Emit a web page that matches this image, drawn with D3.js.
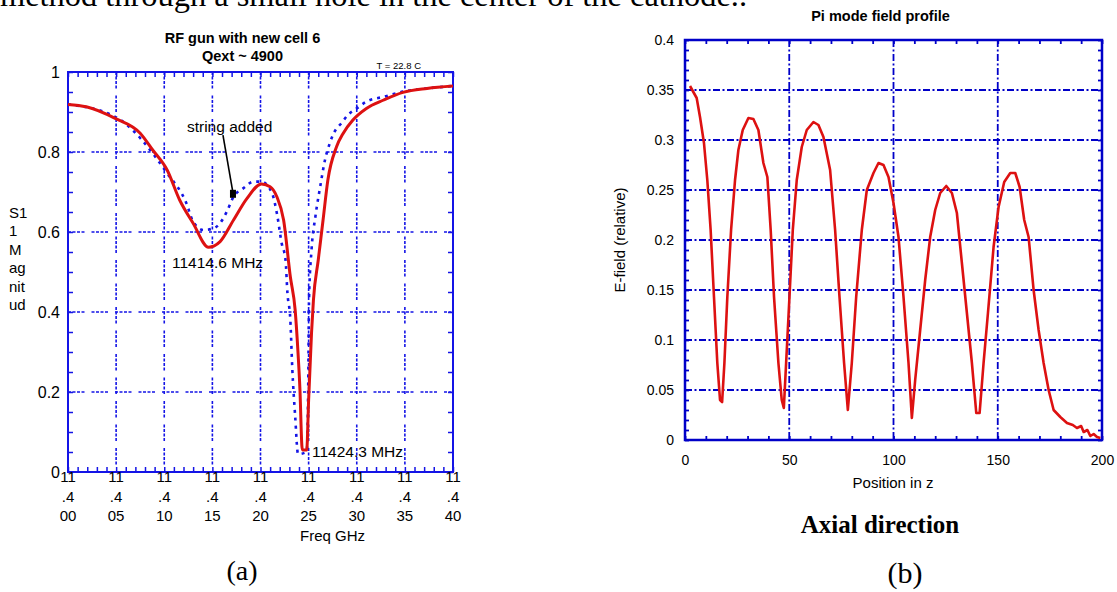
<!DOCTYPE html>
<html lang="en">
<head>
<meta charset="utf-8">
<script src="https://cdnjs.cloudflare.com/ajax/libs/d3/7.8.5/d3.min.js"></script>
<style>
body { margin: 0; background: #fff; }
svg { display: block; font-family: Arial, "Liberation Sans", sans-serif; }
.serif { font-family: "Times New Roman", "Liberation Serif", serif; }
</style>
</head>
<body>
<script>

///////// data, (a) S11 magnitude vs frequency

var freqRed = [11.4000, 11.4019, 11.4049, 11.4075, 11.4088, 11.4103, 11.4116, 11.4130, 11.4146,
  11.4158, 11.4172, 11.4186, 11.4201, 11.4210, 11.4217, 11.4224, 11.4231, 11.4236, 11.4239,
  11.4241, 11.4243, 11.42436, 11.4248, 11.4250, 11.4253, 11.4255, 11.4260, 11.4265, 11.4270,
  11.4279, 11.4286, 11.4296, 11.4310, 11.4328, 11.4348, 11.4373, 11.4400];
var magRed = [0.919, 0.913, 0.884, 0.847, 0.805, 0.755, 0.680, 0.622, 0.562,
  0.576, 0.630, 0.684, 0.720, 0.713, 0.688, 0.630, 0.488, 0.405, 0.297,
  0.205, 0.065, 0.055, 0.055, 0.180, 0.347, 0.430, 0.530, 0.630, 0.730,
  0.813, 0.847, 0.880, 0.909, 0.930, 0.949, 0.959, 0.965];

var freqBlue = [11.4000, 11.4049, 11.4103, 11.4123, 11.4130, 11.4141, 11.4151, 11.4158, 11.4165,
  11.4172, 11.4182, 11.4193, 11.4201, 11.4212, 11.4217, 11.4222, 11.4226, 11.4228, 11.4231,
  11.4233, 11.4236, 11.4239, 11.4248, 11.42496, 11.42504, 11.4253, 11.4257, 11.4262, 11.4267,
  11.4272, 11.4277, 11.4284, 11.4291, 11.4300, 11.4310, 11.4328, 11.4348, 11.4373, 11.4400];
var magBlue = [0.919, 0.888, 0.747, 0.672, 0.626, 0.605, 0.609, 0.622, 0.651,
  0.688, 0.709, 0.726, 0.726, 0.697, 0.647, 0.572, 0.530, 0.447, 0.380,
  0.260, 0.140, 0.045, 0.050, 0.220, 0.430, 0.555, 0.638, 0.713, 0.780,
  0.822, 0.851, 0.872, 0.893, 0.909, 0.926, 0.938, 0.951, 0.959, 0.965];

var freqTicks = [11.400, 11.405, 11.410, 11.415, 11.420, 11.425, 11.430, 11.435, 11.440];
var magTicks = [0, 0.2, 0.4, 0.6, 0.8, 1];
var magLabelLines = ["S1", "1", "M", "ag", "nit", "ud"];

var notesA = [
  {text: "string added", f: 11.41236, v: 0.850},
  {text: "11414.6 MHz", f: 11.41081, v: 0.510},
  {text: "11424.3 MHz", f: 11.42535, v: 0.0375}
];
var arrowA = {f1: 11.4161, v1: 0.842, f2: 11.41714, v2: 0.688};

///////// data, (b) Pi mode field profile

var zPos = [2.4, 5.6, 7.2, 9.1, 10.7, 12.3, 13.9, 15.5, 16.8, 17.8, 18.9, 20.3, 22.1, 24.0, 25.6,
  27.7, 30.4, 32.8, 35.2, 37.6, 39.5, 41.1, 42.7, 44.8, 46.4, 47.4, 48.5, 50.1, 51.7, 53.6,
  56.0, 58.4, 61.6, 64.0, 66.4, 69.6, 72.0, 74.1, 76.3, 78.1, 80.0, 82.1, 84.8, 87.2, 90.4,
  92.8, 95.2, 97.6, 100.0, 102.4, 104.8, 107.2, 108.8, 110.4, 112.8, 115.2, 117.6, 120.0,
  122.4, 125.3, 128.0, 130.4, 132.8, 135.2, 137.6, 139.7, 141.3, 143.2, 145.3, 148.0, 150.4,
  153.1, 156.0, 158.4, 160.5, 162.7, 164.8, 167.2, 169.6, 172.0, 174.4, 176.8, 180.0, 183.2,
  186.0, 188.0, 190.0, 191.2, 193.0, 194.4, 196.0, 197.6, 199.2];
var eField = [0.354, 0.342, 0.323, 0.297, 0.260, 0.210, 0.143, 0.077, 0.040, 0.038, 0.077, 0.143,
  0.210, 0.260, 0.290, 0.310, 0.322, 0.321, 0.310, 0.277, 0.263, 0.210, 0.143, 0.077, 0.040,
  0.032, 0.077, 0.143, 0.210, 0.260, 0.293, 0.310, 0.318, 0.315, 0.303, 0.270, 0.210, 0.143,
  0.077, 0.030, 0.077, 0.143, 0.210, 0.250, 0.267, 0.277, 0.275, 0.263, 0.237, 0.203, 0.143,
  0.077, 0.022, 0.060, 0.110, 0.160, 0.203, 0.230, 0.247, 0.254, 0.247, 0.227, 0.177, 0.127,
  0.077, 0.027, 0.027, 0.077, 0.127, 0.193, 0.233, 0.258, 0.267, 0.267, 0.253, 0.220, 0.203,
  0.150, 0.110, 0.077, 0.050, 0.030, 0.023, 0.017, 0.015, 0.012, 0.014, 0.008, 0.010, 0.004,
  0.006, 0.003, 0.002];

var zTicks = [0, 50, 100, 150, 200];
var eTicks = [0, 0.05, 0.1, 0.15, 0.2, 0.25, 0.3, 0.35, 0.4];

var captionText = "method through a small hole in the center of the cathode..";

///////// layout

var W = 1117, H = 592;
var red = "#dd1111", blueA = "#1414e6", blueB = "#0000c8";

var svg = d3.select("body").append("svg").attr("width", W).attr("height", H);
svg.append("rect").attr("width", W).attr("height", H).attr("fill", "#fff");

// the page text above the figure is cut by the top edge, as in the scan
svg.append("text").attr("class", "serif")
    .attr("x", 0).attr("y", 6)
    .attr("font-size", 32)
    .attr("textLength", 747).attr("lengthAdjust", "spacingAndGlyphs")
    .text(captionText);

function inwardTicks(g, box, x, y, xVals, yVals, len, color, width) {
  var specs = [
    [d3.axisBottom(x).tickValues(xVals), "translate(0," + box.bottom + ")"],
    [d3.axisTop(x).tickValues(xVals), "translate(0," + box.top + ")"],
    [d3.axisLeft(y).tickValues(yVals), "translate(" + box.left + ",0)"],
    [d3.axisRight(y).tickValues(yVals), "translate(" + box.right + ",0)"]
  ];
  specs.forEach(function(s) {
    var a = g.append("g").attr("transform", s[1])
        .call(s[0].tickSize(-len).tickFormat(""));
    a.select(".domain").remove();
    a.selectAll("line").attr("stroke", color).attr("stroke-width", width);
  });
}

////////////////// (a)

var boxA = {left: 68, right: 453, top: 72, bottom: 472};
var xA = d3.scaleLinear().domain([11.400, 11.440]).range([boxA.left, boxA.right]);
var yA = d3.scaleLinear().domain([0, 1]).range([boxA.bottom, boxA.top]);
var gA = svg.append("g");

gA.append("g").selectAll("line").data(freqTicks.slice(1, -1)).join("line")
    .attr("x1", function(d) { return xA(d); }).attr("x2", function(d) { return xA(d); })
    .attr("y1", boxA.top).attr("y2", boxA.bottom)
    .attr("stroke", blueA).attr("stroke-width", 1.6)
    .attr("stroke-dasharray", "3,1.5,3,1.5,3,1.5,3,7");
gA.append("g").selectAll("line").data(magTicks.slice(1, -1)).join("line")
    .attr("x1", boxA.left).attr("x2", boxA.right)
    .attr("y1", function(d) { return yA(d); }).attr("y2", function(d) { return yA(d); })
    .attr("stroke", blueA).attr("stroke-width", 1.6)
    .attr("stroke-dasharray", "3,1.5,3,1.5,3,1.5,3,7");

inwardTicks(gA, boxA, xA, yA, xA.ticks(40), yA.ticks(20), 5, blueA, 1.5);

gA.append("rect")
    .attr("x", boxA.left).attr("y", boxA.top)
    .attr("width", boxA.right - boxA.left).attr("height", boxA.bottom - boxA.top)
    .attr("fill", "none").attr("stroke", blueA).attr("stroke-width", 2);

var lineA = d3.line().curve(d3.curveMonotoneX);
gA.append("path")
    .attr("d", lineA(freqBlue.map(function(f, i) { return [xA(f), yA(magBlue[i])]; })))
    .attr("fill", "none").attr("stroke", blueA).attr("stroke-width", 2.6)
    .attr("stroke-dasharray", "3,5");
gA.append("path")
    .attr("d", lineA(freqRed.map(function(f, i) { return [xA(f), yA(magRed[i])]; })))
    .attr("fill", "none").attr("stroke", red).attr("stroke-width", 3);

// y tick labels
var yAxA = gA.append("g").attr("transform", "translate(" + boxA.left + ",0)")
    .call(d3.axisLeft(yA).tickValues(magTicks).tickSize(0).tickPadding(8).tickFormat(String));
yAxA.select(".domain").remove();
yAxA.selectAll("text").attr("font-size", 16).attr("font-family", null).attr("fill", "#000");

// x tick labels, split over three lines like 11 / .4 / 00
var fmt3 = d3.format(".3f");
var xLab = gA.append("g").selectAll("text").data(freqTicks).join("text")
    .attr("text-anchor", "middle").attr("font-size", 15);
xLab.each(function(d) {
  var s = fmt3(d);
  var parts = [s.slice(0, 2), s.slice(2, 4), s.slice(4)];
  var t = d3.select(this);
  parts.forEach(function(p, i) {
    t.append("tspan").attr("x", xA(d)).attr("y", boxA.bottom + 10 + i * 19.5).text(p);
  });
});

gA.append("text").attr("x", (boxA.left + boxA.right) / 2 + 72).attr("y", 541)
    .attr("text-anchor", "middle").attr("font-size", 15).text("Freq GHz");

gA.append("g").selectAll("text").data(magLabelLines).join("text")
    .attr("x", 9).attr("y", function(d, i) { return 218 + i * 18.4; })
    .attr("font-size", 15).text(function(d) { return d; });

gA.append("text").attr("x", (boxA.left + boxA.right) / 2 - 18).attr("y", 43)
    .attr("text-anchor", "middle").attr("font-size", 14.5).attr("font-weight", "bold")
    .text("RF gun with new cell 6");
gA.append("text").attr("x", (boxA.left + boxA.right) / 2 - 18).attr("y", 61)
    .attr("text-anchor", "middle").attr("font-size", 14.5).attr("font-weight", "bold")
    .text("Qext ~ 4900");
gA.append("text").attr("x", boxA.right - 32).attr("y", 69)
    .attr("text-anchor", "end").attr("font-size", 9.5).text("T = 22.8 C");

gA.append("g").selectAll("text").data(notesA).join("text")
    .attr("x", function(d) { return xA(d.f); }).attr("y", function(d) { return yA(d.v); })
    .attr("font-size", 15.5).text(function(d) { return d.text; });

gA.append("line")
    .attr("x1", xA(arrowA.f1)).attr("y1", yA(arrowA.v1))
    .attr("x2", xA(arrowA.f2)).attr("y2", yA(arrowA.v2) - 4)
    .attr("stroke", "#000").attr("stroke-width", 1.6);
gA.append("rect")
    .attr("x", xA(arrowA.f2) - 3).attr("y", yA(arrowA.v2) - 7)
    .attr("width", 6).attr("height", 8).attr("fill", "#000");

svg.append("text").attr("class", "serif").attr("x", 242).attr("y", 580)
    .attr("text-anchor", "middle").attr("font-size", 28).text("(a)");

////////////////// (b)

var boxB = {left: 685, right: 1102, top: 40, bottom: 440};
var xB = d3.scaleLinear().domain([0, 200]).range([boxB.left, boxB.right]);
var yB = d3.scaleLinear().domain([0, 0.4]).range([boxB.bottom, boxB.top]);
var gB = svg.append("g");

gB.append("g").selectAll("line").data(zTicks.slice(1, -1)).join("line")
    .attr("x1", function(d) { return xB(d); }).attr("x2", function(d) { return xB(d); })
    .attr("y1", boxB.top).attr("y2", boxB.bottom)
    .attr("stroke", blueB).attr("stroke-width", 1.8)
    .attr("stroke-dasharray", "7,2.5,2,2.5");
gB.append("g").selectAll("line").data(eTicks.slice(1, -1)).join("line")
    .attr("x1", boxB.left).attr("x2", boxB.right)
    .attr("y1", function(d) { return yB(d); }).attr("y2", function(d) { return yB(d); })
    .attr("stroke", blueB).attr("stroke-width", 1.8)
    .attr("stroke-dasharray", "7,2.5,2,2.5");

inwardTicks(gB, boxB, xB, yB, xB.ticks(20), yB.ticks(40), 4, blueB, 1.8);

gB.append("rect")
    .attr("x", boxB.left).attr("y", boxB.top)
    .attr("width", boxB.right - boxB.left).attr("height", boxB.bottom - boxB.top)
    .attr("fill", "none").attr("stroke", blueB).attr("stroke-width", 2.5);

gB.append("path")
    .attr("d", d3.line()(zPos.map(function(z, i) { return [xB(z), yB(eField[i])]; })))
    .attr("fill", "none").attr("stroke", red).attr("stroke-width", 2.6)
    .attr("stroke-linejoin", "round");

var yAxB = gB.append("g").attr("transform", "translate(" + boxB.left + ",0)")
    .call(d3.axisLeft(yB).tickValues(eTicks).tickSize(0).tickPadding(11).tickFormat(String));
yAxB.select(".domain").remove();
yAxB.selectAll("text").attr("font-size", 14).attr("font-family", null).attr("fill", "#000");

var xAxB = gB.append("g").attr("transform", "translate(0," + boxB.bottom + ")")
    .call(d3.axisBottom(xB).tickValues(zTicks).tickSize(0).tickPadding(15).tickFormat(String));
xAxB.select(".domain").remove();
xAxB.selectAll("text").attr("font-size", 14).attr("font-family", null).attr("fill", "#000");

gB.append("text").attr("x", (boxB.left + boxB.right) / 2 - 0.5).attr("y", 488)
    .attr("text-anchor", "middle").attr("font-size", 15).text("Position in z");
gB.append("text")
    .attr("transform", "translate(625," + (boxB.top + boxB.bottom) / 2 + ") rotate(-90)")
    .attr("text-anchor", "middle").attr("font-size", 15).text("E-field (relative)");
gB.append("text").attr("x", (boxB.left + boxB.right) / 2 - 13).attr("y", 21)
    .attr("text-anchor", "middle").attr("font-size", 14.5).attr("font-weight", "bold")
    .text("Pi mode field profile");

svg.append("text").attr("class", "serif").attr("x", 880).attr("y", 533)
    .attr("text-anchor", "middle").attr("font-size", 25).attr("font-weight", "bold")
    .text("Axial direction");
svg.append("text").attr("class", "serif").attr("x", 905).attr("y", 583)
    .attr("text-anchor", "middle").attr("font-size", 30).text("(b)");

</script>
</body>
</html>
